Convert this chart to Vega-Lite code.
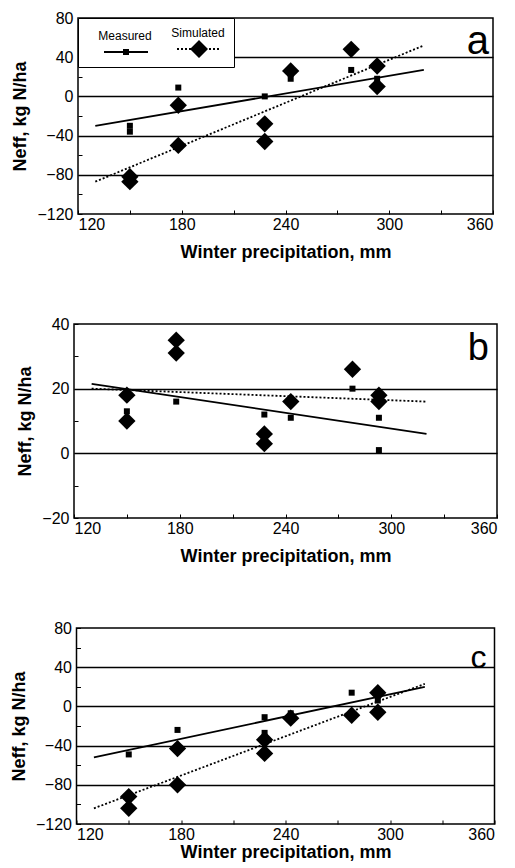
{
  "$schema": "https://vega.github.io/schema/vega-lite/v6.json",
  "background": "white",
  "padding": {"left": 9, "top": 9, "right": 5, "bottom": 0},
  "config": {
    "font": "Liberation Sans",
    "view": {"stroke": "black", "strokeWidth": 1.5},
    "axis": {
      "domain": false,
      "labelFont": "Liberation Sans", "labelFontSize": 16, "labelColor": "black",
      "titleFont": "Liberation Sans", "titleFontSize": 18, "titleFontWeight": "bold", "titleColor": "black",
      "tickColor": "black", "tickSize": -4, "tickWidth": 1,
      "gridColor": "black", "gridWidth": 1.5
    }
  },
  "datasets": {
    "a_lines": [
      {"series": "Measured", "mm": 130, "neff": -30}, {"series": "Measured", "mm": 320, "neff": 27},
      {"series": "Simulated", "mm": 130, "neff": -87}, {"series": "Simulated", "mm": 320, "neff": 52}
    ],
    "a_pts": [
      {"series": "Measured", "mm": 150, "neff": -30}, {"series": "Measured", "mm": 150, "neff": -36},
      {"series": "Measured", "mm": 178, "neff": 9}, {"series": "Measured", "mm": 228, "neff": 0},
      {"series": "Measured", "mm": 243, "neff": 18}, {"series": "Measured", "mm": 278, "neff": 27},
      {"series": "Measured", "mm": 293, "neff": 18},
      {"series": "Simulated", "mm": 150, "neff": -82}, {"series": "Simulated", "mm": 150, "neff": -87},
      {"series": "Simulated", "mm": 178, "neff": -9}, {"series": "Simulated", "mm": 178, "neff": -50},
      {"series": "Simulated", "mm": 228, "neff": -28}, {"series": "Simulated", "mm": 228, "neff": -46},
      {"series": "Simulated", "mm": 243, "neff": 26}, {"series": "Simulated", "mm": 278, "neff": 48},
      {"series": "Simulated", "mm": 293, "neff": 31}, {"series": "Simulated", "mm": 293, "neff": 10}
    ],
    "b_lines": [
      {"series": "Measured", "mm": 130, "neff": 21.5}, {"series": "Measured", "mm": 320, "neff": 6},
      {"series": "Simulated", "mm": 130, "neff": 20}, {"series": "Simulated", "mm": 320, "neff": 16}
    ],
    "b_pts": [
      {"series": "Measured", "mm": 150, "neff": 13}, {"series": "Measured", "mm": 178, "neff": 16},
      {"series": "Measured", "mm": 228, "neff": 12}, {"series": "Measured", "mm": 243, "neff": 11},
      {"series": "Measured", "mm": 278, "neff": 20}, {"series": "Measured", "mm": 293, "neff": 11},
      {"series": "Measured", "mm": 293, "neff": 1},
      {"series": "Simulated", "mm": 150, "neff": 18}, {"series": "Simulated", "mm": 150, "neff": 10},
      {"series": "Simulated", "mm": 178, "neff": 35}, {"series": "Simulated", "mm": 178, "neff": 31},
      {"series": "Simulated", "mm": 228, "neff": 6}, {"series": "Simulated", "mm": 228, "neff": 3},
      {"series": "Simulated", "mm": 243, "neff": 16}, {"series": "Simulated", "mm": 278, "neff": 26},
      {"series": "Simulated", "mm": 293, "neff": 18}, {"series": "Simulated", "mm": 293, "neff": 16}
    ],
    "c_lines": [
      {"series": "Measured", "mm": 130, "neff": -52}, {"series": "Measured", "mm": 320, "neff": 20},
      {"series": "Simulated", "mm": 130, "neff": -104}, {"series": "Simulated", "mm": 320, "neff": 23}
    ],
    "c_pts": [
      {"series": "Measured", "mm": 150, "neff": -49}, {"series": "Measured", "mm": 178, "neff": -24},
      {"series": "Measured", "mm": 228, "neff": -11}, {"series": "Measured", "mm": 228, "neff": -27},
      {"series": "Measured", "mm": 243, "neff": -7}, {"series": "Measured", "mm": 278, "neff": 14},
      {"series": "Measured", "mm": 293, "neff": 6},
      {"series": "Simulated", "mm": 150, "neff": -92}, {"series": "Simulated", "mm": 150, "neff": -104},
      {"series": "Simulated", "mm": 178, "neff": -43}, {"series": "Simulated", "mm": 178, "neff": -80},
      {"series": "Simulated", "mm": 228, "neff": -34}, {"series": "Simulated", "mm": 228, "neff": -48},
      {"series": "Simulated", "mm": 243, "neff": -12}, {"series": "Simulated", "mm": 278, "neff": -9},
      {"series": "Simulated", "mm": 293, "neff": 14}, {"series": "Simulated", "mm": 293, "neff": -6}
    ]
  },
  "bounds": "flush",
  "center": true,
  "spacing": 110,
  "resolve": {"legend": {"shape": "independent"}, "scale": {"y": "independent", "shape": "independent"}},
  "vconcat": [
    {
      "width": 415, "height": 196,
      "layer": [
        {
          "encoding": {
            "x": {"field": "mm", "type": "quantitative", "scale": {"domain": [120, 360], "nice": false},
              "axis": {"title": "Winter precipitation, mm", "grid": false, "labelPadding": 6, "titlePadding": 11, "values": [120, 150, 180, 210, 240, 270, 300, 330, 360], "labelExpr": "datum.value % 60 === 0 ? datum.label : ''"}},
            "y": {"field": "neff", "type": "quantitative", "scale": {"domain": [-120, 80], "nice": false},
              "axis": {"title": "Neff, kg N/ha", "labelPadding": 9, "titlePadding": 7, "values": [-120, -100, -80, -60, -40, -20, 0, 20, 40, 60, 80], "labelExpr": "datum.value % 40 === 0 ? datum.label : ''",
                "gridOpacity": {"condition": {"test": "datum.value % 40 === 0 && datum.value > -120 && datum.value < 80", "value": 1}, "value": 0}}}
          },
          "layer": [
            {
              "data": {"name": "a_lines"},
              "transform": [{"filter": "datum.series === 'Measured'"}],
              "mark": {"type": "line", "stroke": "black", "strokeWidth": 1.8}
            },
            {
              "data": {"name": "a_lines"},
              "transform": [{"filter": "datum.series === 'Simulated'"}],
              "mark": {"type": "line", "stroke": "black", "strokeWidth": 1.8, "strokeDash": [2, 2]}
            },
            {
              "data": {"name": "a_lines"},
              "transform": [{"filter": "false"}],
              "mark": {"type": "point", "filled": true, "color": "black", "strokeWidth": 0, "opacity": 1, "size": 400},
              "encoding": {
                "shape": {"field": "series", "type": "nominal",
                  "scale": {"domain": ["Measured", "Simulated"], "range": [
                    "M-2.2,1.11H2.2V1.29H-2.2ZM-0.3,0.9H0.3V1.5H-0.3Z",
                    "M-2.2,1.11H-2V1.29H-2.2ZM-1.8,1.11H-1.6V1.29H-1.8ZM-1.4,1.11H-1.2V1.29H-1.4ZM-1,1.11H-0.8V1.29H-1ZM-0.6,1.11H-0.4V1.29H-0.6ZM-0.2,1.11H0V1.29H-0.2ZM0.2,1.11H0.4V1.29H0.2ZM0.6,1.11H0.8V1.29H0.6ZM1,1.11H1.2V1.29H1ZM1.4,1.11H1.6V1.29H1.4ZM1.8,1.11H2V1.29H1.8ZM0,0.3L0.9,1.2L0,2.1L-0.9,1.2Z"
                  ]},
                  "legend": {
                    "title": null, "orient": "top-left", "offset": 0, "direction": "horizontal",
                    "fillColor": "white", "strokeColor": "black", "padding": 9,
                    "labelFont": "Liberation Sans", "labelFontSize": 12, "labelColor": "black",
                    "labelAlign": "center", "labelBaseline": "alphabetic", "labelOffset": -11,
                    "columnPadding": 8, "symbolSize": 400, "symbolOffset": 29, "symbolStrokeWidth": 0,
                    "symbolFillColor": "black", "symbolOpacity": 1
                  }}
              }
            },
            {
              "data": {"name": "a_pts"},
              "transform": [{"filter": "datum.series === 'Simulated'"}],
              "mark": {"type": "point", "shape": "diamond", "filled": true, "color": "black", "strokeWidth": 0, "opacity": 1, "size": 300}
            },
            {
              "data": {"name": "a_pts"},
              "transform": [{"filter": "datum.series === 'Measured'"}],
              "mark": {"type": "point", "shape": "square", "filled": true, "color": "black", "strokeWidth": 0, "opacity": 1, "size": 36}
            }
          ]
        },
        {
          "data": {"values": [{"label": "a"}]},
          "mark": {"type": "text", "fontSize": 40, "font": "Liberation Sans", "color": "black", "align": "right", "baseline": "alphabetic", "dx": -4},
          "encoding": {
            "text": {"field": "label"},
            "x": {"datum": 360, "type": "quantitative", "scale": {"domain": [120, 360], "nice": false},
              "axis": {"title": "Winter precipitation, mm", "grid": false, "labelPadding": 6, "titlePadding": 11, "values": [120, 150, 180, 210, 240, 270, 300, 330, 360], "labelExpr": "datum.value % 60 === 0 ? datum.label : ''"}},
            "y": {"datum": 43, "type": "quantitative", "scale": {"domain": [-120, 80], "nice": false},
              "axis": {"title": "Neff, kg N/ha", "labelPadding": 9, "titlePadding": 7, "values": [-120, -100, -80, -60, -40, -20, 0, 20, 40, 60, 80], "labelExpr": "datum.value % 40 === 0 ? datum.label : ''",
                "gridOpacity": {"condition": {"test": "datum.value % 40 === 0 && datum.value > -120 && datum.value < 80", "value": 1}, "value": 0}}}
          }
        }
      ]
    },
    {
      "width": 423, "height": 194,
      "layer": [
        {
          "encoding": {
            "x": {"field": "mm", "type": "quantitative", "scale": {"domain": [120, 360], "nice": false},
              "axis": {"title": "Winter precipitation, mm", "grid": false, "labelPadding": 6, "titlePadding": 11, "values": [120, 150, 180, 210, 240, 270, 300, 330, 360], "labelExpr": "datum.value % 60 === 0 ? datum.label : ''"}},
            "y": {"field": "neff", "type": "quantitative", "scale": {"domain": [-20, 40], "nice": false},
              "axis": {"title": "Neff, kg N/ha", "labelPadding": 9, "titlePadding": 7, "values": [-20, -10, 0, 10, 20, 30, 40], "labelExpr": "datum.value % 20 === 0 ? datum.label : ''",
                "gridOpacity": {"condition": {"test": "datum.value % 20 === 0 && datum.value > -20 && datum.value < 40", "value": 1}, "value": 0}}}
          },
          "layer": [
            {
              "data": {"name": "b_lines"},
              "transform": [{"filter": "datum.series === 'Measured'"}],
              "mark": {"type": "line", "stroke": "black", "strokeWidth": 1.8}
            },
            {
              "data": {"name": "b_lines"},
              "transform": [{"filter": "datum.series === 'Simulated'"}],
              "mark": {"type": "line", "stroke": "black", "strokeWidth": 1.8, "strokeDash": [2, 2]}
            },
            {
              "data": {"name": "b_pts"},
              "transform": [{"filter": "datum.series === 'Simulated'"}],
              "mark": {"type": "point", "shape": "diamond", "filled": true, "color": "black", "strokeWidth": 0, "opacity": 1, "size": 300}
            },
            {
              "data": {"name": "b_pts"},
              "transform": [{"filter": "datum.series === 'Measured'"}],
              "mark": {"type": "point", "shape": "square", "filled": true, "color": "black", "strokeWidth": 0, "opacity": 1, "size": 36}
            }
          ]
        },
        {
          "data": {"values": [{"label": "b"}]},
          "mark": {"type": "text", "fontSize": 38, "font": "Liberation Sans", "color": "black", "align": "right", "baseline": "alphabetic", "dx": -8},
          "encoding": {
            "text": {"field": "label"},
            "x": {"datum": 360, "type": "quantitative", "scale": {"domain": [120, 360], "nice": false},
              "axis": {"title": "Winter precipitation, mm", "grid": false, "labelPadding": 6, "titlePadding": 11, "values": [120, 150, 180, 210, 240, 270, 300, 330, 360], "labelExpr": "datum.value % 60 === 0 ? datum.label : ''"}},
            "y": {"datum": 29, "type": "quantitative", "scale": {"domain": [-20, 40], "nice": false},
              "axis": {"title": "Neff, kg N/ha", "labelPadding": 9, "titlePadding": 7, "values": [-20, -10, 0, 10, 20, 30, 40], "labelExpr": "datum.value % 20 === 0 ? datum.label : ''",
                "gridOpacity": {"condition": {"test": "datum.value % 20 === 0 && datum.value > -20 && datum.value < 40", "value": 1}, "value": 0}}}
          }
        }
      ]
    },
    {
      "width": 418, "height": 196,
      "layer": [
        {
          "encoding": {
            "x": {"field": "mm", "type": "quantitative", "scale": {"domain": [120, 360], "nice": false},
              "axis": {"title": "Winter precipitation, mm", "grid": false, "labelPadding": 6, "titlePadding": 1, "values": [120, 150, 180, 210, 240, 270, 300, 330, 360], "labelExpr": "datum.value % 60 === 0 ? datum.label : ''"}},
            "y": {"field": "neff", "type": "quantitative", "scale": {"domain": [-120, 80], "nice": false},
              "axis": {"title": "Neff, kg N/ha", "labelPadding": 9, "titlePadding": 7, "values": [-120, -100, -80, -60, -40, -20, 0, 20, 40, 60, 80], "labelExpr": "datum.value % 40 === 0 ? datum.label : ''",
                "gridOpacity": {"condition": {"test": "datum.value % 40 === 0 && datum.value > -120 && datum.value < 80", "value": 1}, "value": 0}}}
          },
          "layer": [
            {
              "data": {"name": "c_lines"},
              "transform": [{"filter": "datum.series === 'Measured'"}],
              "mark": {"type": "line", "stroke": "black", "strokeWidth": 1.8}
            },
            {
              "data": {"name": "c_lines"},
              "transform": [{"filter": "datum.series === 'Simulated'"}],
              "mark": {"type": "line", "stroke": "black", "strokeWidth": 1.8, "strokeDash": [2, 2]}
            },
            {
              "data": {"name": "c_pts"},
              "transform": [{"filter": "datum.series === 'Simulated'"}],
              "mark": {"type": "point", "shape": "diamond", "filled": true, "color": "black", "strokeWidth": 0, "opacity": 1, "size": 300}
            },
            {
              "data": {"name": "c_pts"},
              "transform": [{"filter": "datum.series === 'Measured'"}],
              "mark": {"type": "point", "shape": "square", "filled": true, "color": "black", "strokeWidth": 0, "opacity": 1, "size": 36}
            }
          ]
        },
        {
          "data": {"values": [{"label": "c"}]},
          "mark": {"type": "text", "fontSize": 32, "font": "Liberation Sans", "color": "black", "align": "right", "baseline": "alphabetic", "dx": -8},
          "encoding": {
            "text": {"field": "label"},
            "x": {"datum": 360, "type": "quantitative", "scale": {"domain": [120, 360], "nice": false},
              "axis": {"title": "Winter precipitation, mm", "grid": false, "labelPadding": 6, "titlePadding": 1, "values": [120, 150, 180, 210, 240, 270, 300, 330, 360], "labelExpr": "datum.value % 60 === 0 ? datum.label : ''"}},
            "y": {"datum": 39, "type": "quantitative", "scale": {"domain": [-120, 80], "nice": false},
              "axis": {"title": "Neff, kg N/ha", "labelPadding": 9, "titlePadding": 7, "values": [-120, -100, -80, -60, -40, -20, 0, 20, 40, 60, 80], "labelExpr": "datum.value % 40 === 0 ? datum.label : ''",
                "gridOpacity": {"condition": {"test": "datum.value % 40 === 0 && datum.value > -120 && datum.value < 80", "value": 1}, "value": 0}}}
          }
        }
      ]
    }
  ]
}
